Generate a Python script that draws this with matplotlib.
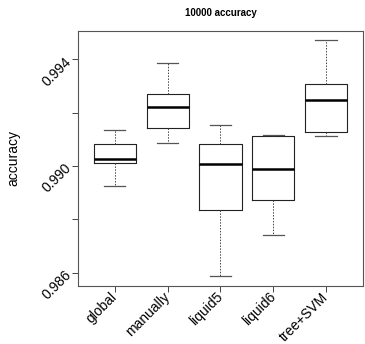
import matplotlib
matplotlib.use("Agg")
from matplotlib import pyplot as plt

plt.rcParams['font.family'] = ['Liberation Sans', 'DejaVu Sans']

# box statistics
methods = ["global", "manually", "liquid5", "liquid6", "tree+SVM"]
whisker_low = [0.98926, 0.99087, 0.98586, 0.98742, 0.99113]
q1 = [0.99011, 0.99144, 0.98835, 0.98871, 0.99128]
median = [0.99026, 0.99220, 0.99008, 0.98990, 0.99249]
q3 = [0.99083, 0.99271, 0.99083, 0.99113, 0.99307]
whisker_high = [0.99134, 0.99385, 0.99155, 0.99115, 0.99472]

yticks = [0.986, 0.988, 0.990, 0.992, 0.994]
ytick_labels = ["0.986", "", "0.990", "", "0.994"]

stats = []
for i, name in enumerate(methods):
    stats.append({"label": name, "whislo": whisker_low[i], "q1": q1[i],
                  "med": median[i], "q3": q3[i], "whishi": whisker_high[i],
                  "fliers": []})

fig = plt.figure(figsize=(3.65, 3.44), dpi=100)
ax = fig.add_axes([0.2137, 0.1686, 0.7808, 0.7415])

ax.bxp(stats, positions=range(1, len(methods) + 1), widths=0.8,
       showfliers=False,
       boxprops=dict(color="#222222", linewidth=0.8),
       medianprops=dict(color="black", linewidth=1.8),
       whiskerprops=dict(color="#444444", linewidth=0.7, linestyle=(0, (1.5, 1.5))),
       capprops=dict(color="#555555", linewidth=0.9),
       capwidths=0.4)

ax.set_xlim(0.3, 5.7)
ax.set_ylim(0.98550, 0.99507)

ax.set_yticks(yticks)
ax.set_yticklabels(ytick_labels, rotation=45, ha="right", va="center",
                   rotation_mode="anchor", fontsize=10)
ax.set_xticks(range(1, len(methods) + 1))
ax.set_xticklabels(methods, rotation=45, ha="right", va="center",
                   rotation_mode="anchor", fontsize=10)
ax.tick_params(axis="both", length=4.3, width=0.7, color="#444444", pad=2)

for s in ax.spines.values():
    s.set_color("#555555")
    s.set_linewidth(0.8)

ax.set_ylabel("accuracy", fontsize=10, va="center")
ax.yaxis.set_label_coords(-0.228, 0.5)
ax.set_title("10000 accuracy", fontsize=7, fontweight="bold", pad=11)

fig.savefig("out.png", dpi=100)
